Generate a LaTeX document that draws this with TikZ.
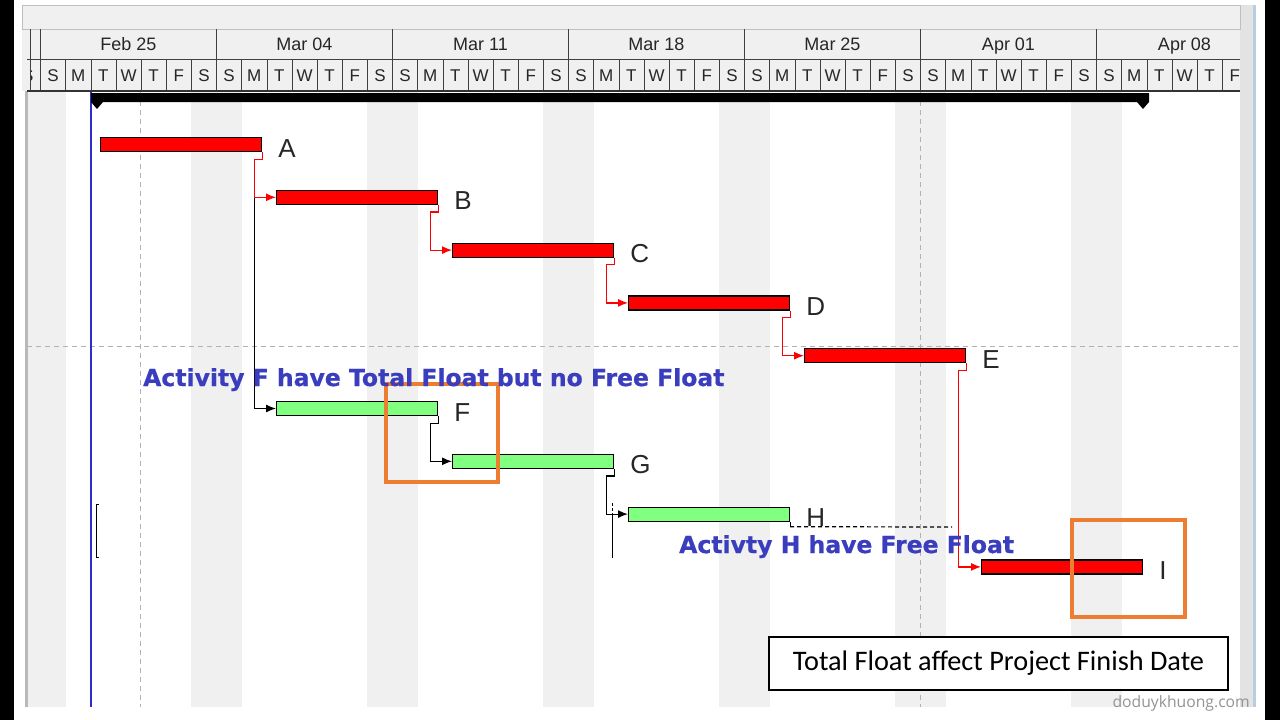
\documentclass[tikz,border=0pt]{standalone}
\usepackage{fontspec}
\setmainfont{Liberation Sans}
\newfontfamily\notefont{DejaVu Sans}[BoldFeatures={FakeBold=0.7}]
\newfontfamily\boxfont{Carlito}
\newfontfamily\markfont{Open Sans}
\usetikzlibrary{arrows.meta,positioning}
\definecolor{critred}{RGB}{255,0,0}
\definecolor{floatgreen}{RGB}{128,255,128}
\definecolor{noteblue}{RGB}{58,62,190}
\definecolor{hlorange}{RGB}{237,125,49}
\definecolor{wkgray}{RGB}{240,240,240}
\definecolor{todayblue}{RGB}{45,45,200}
\definecolor{scrollblue}{RGB}{184,204,228}

\begin{document}
\begin{tikzpicture}[x=1pt, y=-1pt, >={Latex[length=10pt,width=8pt]}, line join=miter,
	bar/.style={draw=black, line width=1.2pt, minimum width=161pt, minimum height=14pt, inner sep=0pt, anchor=west},
	critbar/.style={bar, fill=critred},
	freebar/.style={bar, fill=floatgreen},
	barlabel/.style={inner sep=0pt, text=black!85, font=\fontsize{26}{30}\selectfont, yshift=-3.7pt},
	critlink/.style={->, critred, line width=1.2pt},
	freelink/.style={->, black, line width=1.2pt},
	gridline/.style={gray!60, line width=1pt, dash pattern=on 5pt off 4pt},
	weektext/.style={anchor=base, font=\fontsize{18}{22}\selectfont, text=black!85},
	daytext/.style={anchor=base, font=\fontsize{17}{21}\selectfont, text=black!85},
	note/.style={inner sep=0pt, anchor=base west, text=noteblue, font=\notefont\bfseries\fontsize{23.5}{28}\selectfont},
	hlbox/.style={draw=hlorange, line width=4.5pt, inner sep=0pt}]
	\useasboundingbox (0,0) rectangle (1280,720);
	
	% 1. Nền, viền đen hai bên và thanh cuộn
	\fill[white] (0,0) rectangle (1280,720);
	\fill[black] (0,0) rectangle (14,720);
	\fill[black] (1265,0) rectangle (1280,720);
	\fill[gray!22] (1240,5) rectangle (1253,707);
	\draw[scrollblue, line width=3pt] (1254.5,5) -- (1254.5,707);
	
	% Các cột cuối tuần (thứ Bảy, Chủ nhật)
	\fill[wkgray] (27,91) rectangle (65.6,707);
	\foreach \k in {0,...,5}
		\fill[wkgray] ({191.4+176*\k},91) rectangle ({241.6+176*\k},707);
	\draw[gray!55, line width=2.5pt] (26.5,29) -- (26.5,707);
	
	% 2. Đầu bảng: tuần và ngày
	\fill[wkgray] (22,5) rectangle (1240,91);
	\draw[gray!50] (22,5) rectangle (1240,29);
	\begin{scope}
		\clip (30,29) rectangle (1240,92);
		\foreach \w [count=\k from 0] in {Feb 25, Mar 04, Mar 11, Mar 18, Mar 25, Apr 01, Apr 08}
			\node[weektext] at ({128.5+176*\k},50) {\w};
		\node[daytext] at (27.9,81.5) {S};
		\foreach \k in {0,...,6}
			\foreach \d [count=\n from 0] in {S,M,T,W,T,F,S}
				\node[daytext] at ({53.1+176*\k+25.143*\n},81.5) {\d};
		\foreach \n in {0,...,47}
			\draw[black!75] ({40.5+25.143*\n},59) -- ({40.5+25.143*\n},91);
		\foreach \k in {0,...,6}
			\draw[black!75] ({40.5+176*\k},29) -- ({40.5+176*\k},59);
	\end{scope}
	\draw[black!75] (27,59) -- (1240,59);
	\draw[black!80, line width=1.5pt] (27,91) -- (1240,91);
	\draw[black!75] (30,29) -- (30,91);
	
	% 3. Đường lưới nét đứt và đường ngày hiện tại
	\draw[gridline] (140.5,92) -- (140.5,707);
	\draw[gridline] (920.5,92) -- (920.5,707);
	\draw[gridline] (27,346) -- (1240,346);
	\draw[todayblue, line width=1.6pt] (91,92) -- (91,707);
	
	% Thanh tổng dự án
	\fill[black] (91,93) -- (1149,93) -- (1149,102) -- (1143,109) -- (1137,102) -- (103,102) -- (97,109) -- (91,102) -- cycle;
	
	% 4. Các công việc
	\node[critbar] (A) at (100,144.5) {};
	\node[critbar] (B) at (276,197.3) {};
	\node[critbar] (C) at (452,250.1) {};
	\node[critbar] (D) at (628,302.9) {};
	\node[critbar] (E) at (804,355.7) {};
	\node[freebar] (F) at (276,408.5) {};
	\node[freebar] (G) at (452,461.3) {};
	\node[freebar] (H) at (628,514.1) {};
	\node[critbar] (I) at (981,566.9) {};
	
	\node[barlabel, right=16pt of A] (tA) {A};
	\node[barlabel, right=16pt of B] (tB) {B};
	\node[barlabel, right=16pt of C] (tC) {C};
	\node[barlabel, right=16pt of D] (tD) {D};
	\node[barlabel, right=16pt of E] (tE) {E};
	\node[barlabel, right=16pt of F] (tF) {F};
	\node[barlabel, right=16pt of G] (tG) {G};
	\node[barlabel, right=16pt of H] (tH) {H};
	\node[barlabel, right=16pt of I] (tI) {I};
	
	% 5. Quan hệ giữa các công việc (đỏ: găng, đen: không găng)
	\draw[freelink] (A.south east) -- ++(0,7) -- ++(-8,0) |- (F.west);
	\draw[critlink] (A.south east) -- ++(0,7) -- ++(-8,0) |- (B.west);
	\draw[critlink] (B.south east) -- ++(0,7) -- ++(-8,0) |- (C.west);
	\draw[critlink] (C.south east) -- ++(0,7) -- ++(-8,0) |- (D.west);
	\draw[critlink] (D.south east) -- ++(0,7) -- ++(-8,0) |- (E.west);
	\draw[critlink] (E.south east) -- ++(0,7) -- ++(-8,0) |- (I.west);
	\draw[freelink] (F.south east) -- ++(0,7) -- ++(-8,0) |- (G.west);
	\draw[freelink] (G.south east) -- ++(0,7) -- ++(-8,0) |- (H.west);
	
	% Dự trữ tự do của H
	\coordinate (Hfree) at (952,527);
	\draw[black, line width=1.2pt] (H.south east) -- ++(0,5);
	\draw[black, line width=1.2pt, dash pattern=on 4pt off 3pt] (H.south east) ++(0,5) -- (Hfree);
	
	% Các vạch lẻ trên hình gốc
	\draw[black, line width=1pt] (98.5,504) -- (96,504) -- (96,557) -- (98.5,557);
	\draw[black, line width=0.8pt, dash pattern=on 3pt off 2pt] (612.5,503) -- (612.5,515);
	\draw[black, line width=0.8pt] (612.5,515) -- (612.5,558);
	
	% 6. Khung cam đánh dấu và ghi chú
	\node[hlbox, minimum width=112pt, minimum height=98pt] (boxF) at (442,433) {};
	\node[hlbox, minimum width=113pt, minimum height=97pt] (boxI) at (1128.5,568.5) {};
	\node[note] (noteF) at (143,386) {Activity F have Total Float but no Free Float};
	\node[note] (noteH) at (679,553) {Activty H have Free Float};
	
	\node[draw=black, fill=white, line width=1.5pt, minimum width=459pt, minimum height=53pt, inner sep=0pt,
		font=\boxfont\fontsize{28.3}{32}\selectfont] (finish) at (998.5,663.5) {Total Float affect Project Finish Date};
	\node[anchor=base east, inner sep=0pt, text=black!42, font=\markfont\fontsize{15.7}{18}\selectfont] (mark) at (1250,707) {doduykhuong.com};
\end{tikzpicture}
\end{document}
